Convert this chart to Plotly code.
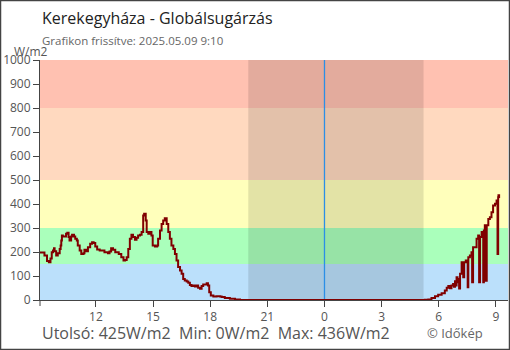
import plotly.graph_objects as go

title = "Kerekegyháza - Globálsugárzás"
subtitle = "Grafikon frissítve: 2025.05.09 9:10"
unit = "W/m2"

day1 = "2025-05-08"
day2 = "2025-05-09"

times_d1 = ["09:04","09:13","09:18","09:26","09:32","09:37","09:41","09:45","09:48","09:50",
            "09:55","10:00","10:06","10:09","10:11","10:13","10:16","10:21","10:26","10:30",
            "10:34","10:37","10:42","10:45","10:51","10:55","11:00","11:03","11:09","11:14",
            "11:21","11:24","11:29","11:35","11:42","11:48","11:53","11:58","12:04","12:12",
            "12:22","12:27","12:38","12:43","12:48","12:54","13:01","13:12","13:20","13:27",
            "13:32","13:37","13:42","13:47","13:52","13:57","14:03","14:08","14:13","14:19",
            "14:24","14:29","14:32","14:37","14:40","14:45","14:50","14:55","14:59","15:06",
            "15:13","15:16","15:22","15:27","15:32","15:37","15:43","15:48","15:53","15:58",
            "16:04","16:09","16:14","16:19","16:25","16:30","16:35","16:40","16:46","16:51",
            "16:56","17:01","17:07","17:12","17:17","17:22","17:28","17:33","17:38","17:43",
            "17:49","17:53","17:57","18:02","18:10","18:20","18:31","18:36","18:46","19:02",
            "19:18","19:34","23:59"]
values_d1 = [198,198,185,162,157,173,199,206,216,203,
             185,195,213,227,248,269,265,265,276,280,
             262,248,265,272,265,255,248,227,206,192,
             195,209,203,220,234,241,237,223,210,206,
             206,199,195,202,216,209,199,192,178,165,
             167,178,213,255,272,262,251,259,269,272,
             283,352,359,331,283,276,283,269,227,223,
             227,255,290,317,331,341,317,283,255,227,
             213,192,165,137,123,109,88,81,77,72,
             63,58,60,56,60,51,47,58,65,65,
             70,60,32,19,15,16,15,12,8,5,
             2,0,0]

times_d2 = ["00:00","05:11","05:16","05:27","05:37","05:48","05:58","06:09","06:19","06:25",
            "06:30","06:35","06:40","06:45","06:48","06:51","06:54","06:56","06:59","07:01",
            "07:04","07:07","07:12","07:17","07:20","07:25","07:31","07:33","07:38","07:43",
            "07:45","07:48","07:54","07:59","08:04","08:07","08:10","08:15","08:20","08:22",
            "08:25","08:28","08:31","08:36","08:41","08:46","08:51","08:57","09:02","09:05",
            "09:07","09:08","09:10"]
values_d2 = [0,0,1,2,8,16,22,28,40,51,
             58,49,60,67,55,78,60,95,74,88,
             48,109,157,95,157,165,53,178,185,199,
             74,220,220,255,269,74,262,283,74,290,
             311,80,311,338,345,366,394,401,415,192,
             428,436,425]

band_edges = [0, 150, 300, 500, 800, 1000]
band_colors = ["#bbe0fb", "#aaffbb", "#ffffbb", "#ffd9bf", "#ffc1b1"]

night_start = "2025-05-08 20:00"
night_end = "2025-05-09 05:12"
midnight = "2025-05-09 00:00"

x_range = ["2025-05-08 09:04", "2025-05-09 09:38"]
tick_vals = ["2025-05-08 12:00", "2025-05-08 15:00", "2025-05-08 18:00", "2025-05-08 21:00",
             "2025-05-09 00:00", "2025-05-09 03:00", "2025-05-09 06:00", "2025-05-09 09:00"]
tick_text = ["12", "15", "18", "21", "0", "3", "6", "9"]
y_ticks = [0, 100, 200, 300, 400, 500, 600, 700, 800, 900, 1000]

xs = [f"{day1} {t}" for t in times_d1] + [f"{day2} {t}" for t in times_d2]
ys = values_d1 + values_d2

fig = go.Figure()
fig.add_trace(go.Scatter(x=xs, y=ys, mode="lines", line=dict(color="#800000", width=2, shape="hv"),
                         hoverinfo="skip", showlegend=False))

W, H = 510, 350
L, R, T, B = 40, 2, 60, 50
pw, ph = W - L - R, H - T - B


def py(y_px):
    # convert a pixel row of the page into paper coordinates
    return (H - B - y_px) / ph


def px(x_px):
    return (x_px - L) / pw


shapes = []
for i, c in enumerate(band_colors):
    shapes.append(dict(type="rect", xref="paper", yref="y", x0=0, x1=1,
                       y0=band_edges[i], y1=band_edges[i + 1], fillcolor=c,
                       line=dict(width=0), layer="below"))
shapes.append(dict(type="rect", xref="x", yref="paper", x0=night_start, x1=night_end,
                   y0=0, y1=1, fillcolor="rgba(0,0,0,0.11)", line=dict(width=0), layer="below"))
shapes.append(dict(type="line", xref="x", yref="paper", x0=midnight, x1=midnight,
                   y0=0, y1=1, line=dict(color="#2b8fe6", width=1.3), layer="below"))
shapes.append(dict(type="line", xref="paper", yref="paper", x0=0, x1=0, y0=0, y1=py(306),
                   line=dict(color="#444", width=1)))
shapes.append(dict(type="rect", xref="paper", yref="paper",
                   x0=px(0.5), x1=px(W - 0.5), y0=py(H - 0.5), y1=py(0.5),
                   line=dict(color="#444", width=1.5), fillcolor="rgba(0,0,0,0)"))

last_v = ys[-1]
min_v = min(ys)
max_v = max(ys)
font = "Open Sans"
annotations = [
    dict(text=title, xref="paper", yref="paper", x=0, y=py(18), xanchor="left",
         yanchor="middle", showarrow=False, font=dict(family=font, size=16, color="#222")),
    dict(text=subtitle, xref="paper", yref="paper", x=0, y=py(40), xanchor="left",
         yanchor="middle", showarrow=False, font=dict(family=font, size=11.5, color="#666")),
    dict(text=unit, xref="paper", yref="paper", x=px(12), y=py(52), xanchor="left",
         yanchor="middle", showarrow=False, font=dict(family=font, size=12, color="#555")),
    dict(text=f"Utolsó: {last_v}W/m2  Min: {min_v}W/m2  Max: {max_v}W/m2", xref="paper", yref="paper",
         x=0, y=py(333), xanchor="left", yanchor="middle", showarrow=False,
         font=dict(family=font, size=16, color="#555")),
    dict(text="© Időkép", xref="paper", yref="paper", x=px(425), y=py(333),
         xanchor="left", yanchor="middle", showarrow=False, font=dict(family=font, size=13, color="#666")),
]

fig.update_layout(
    width=W, height=H, margin=dict(l=L, r=R, t=T, b=B),
    paper_bgcolor="white", plot_bgcolor="white",
    shapes=shapes, annotations=annotations,
    font=dict(family=font, size=12, color="#555"),
    xaxis=dict(type="date", range=x_range, tickvals=tick_vals, ticktext=tick_text,
               showgrid=False, zeroline=False, showline=True, linecolor="#444", linewidth=1,
               ticks="outside", ticklen=6, tickcolor="#444", tickfont=dict(size=12, color="#555")),
    yaxis=dict(range=[0, 1000], tickvals=y_ticks, showgrid=False, zeroline=False,
               showline=True, linecolor="#444", linewidth=1, ticks="outside", ticklen=6,
               tickcolor="#444", tickfont=dict(size=12, color="#555")),
)

fig.write_html("out.html")
